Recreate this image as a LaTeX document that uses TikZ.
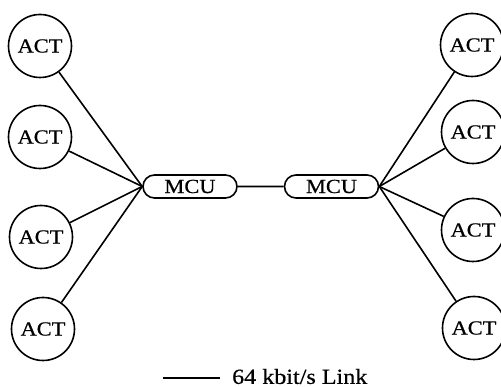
\documentclass[tikz,border=0pt]{standalone}
\usepackage{fontspec}
\setmainfont[FakeStretch=1.12,FakeBold=0.6]{Liberation Serif}
\tikzset{
  act/.style={circle, draw, line width=1.6pt, minimum size=63pt, inner sep=0pt, font=\fontsize{20}{22}\selectfont},
  mcu/.style={rounded rectangle, draw, line width=1.6pt, minimum width=94pt, minimum height=23pt, inner sep=0pt, font=\fontsize{20}{22}\selectfont},
  link/.style={line width=1.6pt}
}
\usetikzlibrary{shapes.misc}
\begin{document}
\begin{tikzpicture}[x=1pt,y=-1pt]
\useasboundingbox (0,0) rectangle (501,387);
\node[act] (l1) at (40,46) {ACT};
\node[act] (l2) at (40,137) {ACT};
\node[act] (l3) at (41,237) {ACT};
\node[act] (l4) at (43,329) {ACT};
\node[act] (r1) at (472,45) {ACT};
\node[act] (r2) at (473,132) {ACT};
\node[act] (r3) at (473,230) {ACT};
\node[act] (r4) at (474,328) {ACT};
\node[mcu] (m1) at (190,186.5) {MCU};
\node[mcu] (m2) at (331.5,186.5) {MCU};
\foreach \n in {l1,l2,l3,l4} \draw[link] (\n) -- (m1.west);
\foreach \n in {r1,r2,r3,r4} \draw[link] (\n) -- (m2.east);
\draw[link] (m1) -- (m2);
\coordinate (ka) at (163,378);
\coordinate (kb) at (220,378);
\draw[link] (ka) -- (kb);
\node[anchor=west, inner sep=0pt, font=\fontsize{21.5}{23}\selectfont] (lt) at (232,376.5) {64 kbit/s Link};
\end{tikzpicture}
\end{document}
